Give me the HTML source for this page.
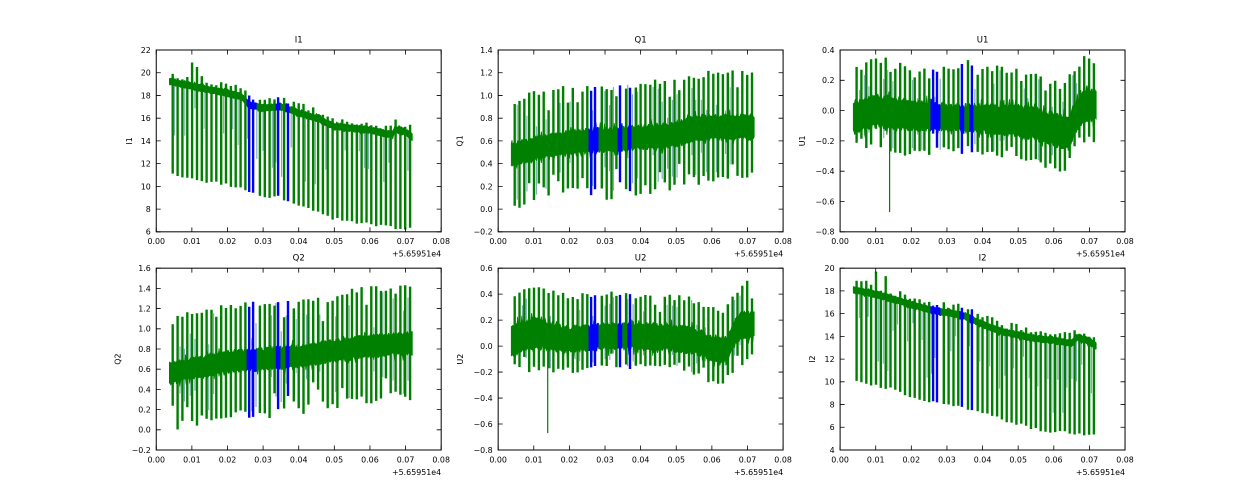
<!DOCTYPE html>
<html><head><meta charset="utf-8">
<style>
html,body{margin:0;padding:0;background:#fff;}
svg{display:block;}
text{font-family:"DejaVu Sans","Liberation Sans",sans-serif;fill:#000;}
.t{font-size:7.9px;}
.ti{font-size:8.5px;}
</style></head>
<body>
<svg id="s" width="1250" height="500" viewBox="0 0 1250 500" xmlns="http://www.w3.org/2000/svg">
<rect width="1250" height="500" fill="#fff"/>
<defs>
<clipPath id="c0"><rect x="156.25" y="50" width="284.93" height="181.82"/></clipPath>
<clipPath id="c1"><rect x="498.17" y="50" width="284.93" height="181.82"/></clipPath>
<clipPath id="c2"><rect x="840.1" y="50" width="284.93" height="181.82"/></clipPath>
<clipPath id="c3"><rect x="156.25" y="268.18" width="284.93" height="181.82"/></clipPath>
<clipPath id="c4"><rect x="498.17" y="268.18" width="284.93" height="181.82"/></clipPath>
<clipPath id="c5"><rect x="840.1" y="268.18" width="284.93" height="181.82"/></clipPath>
</defs>
<g id="d0" clip-path="url(#c0)"></g>
<g id="d1" clip-path="url(#c1)"></g>
<g id="d2" clip-path="url(#c2)"></g>
<g id="d3" clip-path="url(#c3)"></g>
<g id="d4" clip-path="url(#c4)"></g>
<g id="d5" clip-path="url(#c5)"></g>
<g fill="none" stroke="#000" stroke-width="1">
<rect x="156.25" y="50" width="284.93" height="181.82"/>
<rect x="498.17" y="50" width="284.93" height="181.82"/>
<rect x="840.1" y="50" width="284.93" height="181.82"/>
<rect x="156.25" y="268.18" width="284.93" height="181.82"/>
<rect x="498.17" y="268.18" width="284.93" height="181.82"/>
<rect x="840.1" y="268.18" width="284.93" height="181.82"/>
</g>
<g id="ticks" stroke="#000" stroke-width="0.8" fill="none"></g>

<!-- Titles -->
<g class="ti" text-anchor="middle">
<text x="298.7" y="42.5">I1</text>
<text x="640.6" y="42.5">Q1</text>
<text x="982.6" y="42.5">U1</text>
<text x="298.7" y="260.7">Q2</text>
<text x="640.6" y="260.7">U2</text>
<text x="982.6" y="260.7">I2</text>
</g>

<!-- Y labels -->
<g class="t" text-anchor="middle">
<text transform="translate(132,140.9) rotate(-90)">I1</text>
<text transform="translate(462.5,140.9) rotate(-90)">Q1</text>
<text transform="translate(805,140.9) rotate(-90)">U1</text>
<text transform="translate(120.5,359.1) rotate(-90)">Q2</text>
<text transform="translate(463,359.1) rotate(-90)">U2</text>
<text transform="translate(815,359.1) rotate(-90)">I2</text>
</g>

<!-- X tick labels -->
<g class="t" text-anchor="middle">
<text x="156.25" y="244">0.00</text><text x="191.87" y="244">0.01</text><text x="227.48" y="244">0.02</text><text x="263.10" y="244">0.03</text><text x="298.72" y="244">0.04</text><text x="334.33" y="244">0.05</text><text x="369.95" y="244">0.06</text><text x="405.56" y="244">0.07</text><text x="441.18" y="244">0.08</text>
<text x="498.17" y="244">0.00</text><text x="533.79" y="244">0.01</text><text x="569.40" y="244">0.02</text><text x="605.02" y="244">0.03</text><text x="640.64" y="244">0.04</text><text x="676.25" y="244">0.05</text><text x="711.87" y="244">0.06</text><text x="747.48" y="244">0.07</text><text x="783.10" y="244">0.08</text>
<text x="840.10" y="244">0.00</text><text x="875.72" y="244">0.01</text><text x="911.33" y="244">0.02</text><text x="946.95" y="244">0.03</text><text x="982.56" y="244">0.04</text><text x="1018.18" y="244">0.05</text><text x="1053.80" y="244">0.06</text><text x="1089.41" y="244">0.07</text><text x="1125.03" y="244">0.08</text>
<text x="156.25" y="462.5">0.00</text><text x="191.87" y="462.5">0.01</text><text x="227.48" y="462.5">0.02</text><text x="263.10" y="462.5">0.03</text><text x="298.72" y="462.5">0.04</text><text x="334.33" y="462.5">0.05</text><text x="369.95" y="462.5">0.06</text><text x="405.56" y="462.5">0.07</text><text x="441.18" y="462.5">0.08</text>
<text x="498.17" y="462.5">0.00</text><text x="533.79" y="462.5">0.01</text><text x="569.40" y="462.5">0.02</text><text x="605.02" y="462.5">0.03</text><text x="640.64" y="462.5">0.04</text><text x="676.25" y="462.5">0.05</text><text x="711.87" y="462.5">0.06</text><text x="747.48" y="462.5">0.07</text><text x="783.10" y="462.5">0.08</text>
<text x="840.10" y="462.5">0.00</text><text x="875.72" y="462.5">0.01</text><text x="911.33" y="462.5">0.02</text><text x="946.95" y="462.5">0.03</text><text x="982.56" y="462.5">0.04</text><text x="1018.18" y="462.5">0.05</text><text x="1053.80" y="462.5">0.06</text><text x="1089.41" y="462.5">0.07</text><text x="1125.03" y="462.5">0.08</text>
</g>

<!-- Offset texts -->
<g class="t" text-anchor="end">
<text x="441.18" y="256.5">+5.65951e4</text>
<text x="783.10" y="256.5">+5.65951e4</text>
<text x="1125.03" y="256.5">+5.65951e4</text>
<text x="441.18" y="475">+5.65951e4</text>
<text x="783.10" y="475">+5.65951e4</text>
<text x="1125.03" y="475">+5.65951e4</text>
</g>

<!-- Y tick labels -->
<g class="t" text-anchor="end">
<text x="150.75" y="52.9">22</text><text x="150.75" y="75.6">20</text><text x="150.75" y="98.4">18</text><text x="150.75" y="121.1">16</text><text x="150.75" y="143.8">14</text><text x="150.75" y="166.5">12</text><text x="150.75" y="189.3">10</text><text x="150.75" y="212.0">8</text><text x="150.75" y="234.7">6</text>
<text x="492.67" y="52.9">1.4</text><text x="492.67" y="75.6">1.2</text><text x="492.67" y="98.4">1.0</text><text x="492.67" y="121.1">0.8</text><text x="492.67" y="143.8">0.6</text><text x="492.67" y="166.5">0.4</text><text x="492.67" y="189.3">0.2</text><text x="492.67" y="212.0">0.0</text><text x="492.67" y="234.7">−0.2</text>
<text x="834.6" y="52.9">0.4</text><text x="834.6" y="83.2">0.2</text><text x="834.6" y="113.5">0.0</text><text x="834.6" y="143.8">−0.2</text><text x="834.6" y="174.1">−0.4</text><text x="834.6" y="204.4">−0.6</text><text x="834.6" y="234.7">−0.8</text>
<text x="150.75" y="271.1">1.6</text><text x="150.75" y="291.3">1.4</text><text x="150.75" y="311.5">1.2</text><text x="150.75" y="331.7">1.0</text><text x="150.75" y="351.9">0.8</text><text x="150.75" y="372.1">0.6</text><text x="150.75" y="392.3">0.4</text><text x="150.75" y="412.5">0.2</text><text x="150.75" y="432.7">0.0</text><text x="150.75" y="452.9">−0.2</text>
<text x="492.67" y="271.1">0.6</text><text x="492.67" y="297.1">0.4</text><text x="492.67" y="323.0">0.2</text><text x="492.67" y="349.0">0.0</text><text x="492.67" y="375.0">−0.2</text><text x="492.67" y="401.0">−0.4</text><text x="492.67" y="426.9">−0.6</text><text x="492.67" y="452.9">−0.8</text>
<text x="834.6" y="271.1">20</text><text x="834.6" y="293.8">18</text><text x="834.6" y="316.5">16</text><text x="834.6" y="339.3">14</text><text x="834.6" y="362.0">12</text><text x="834.6" y="384.7">10</text><text x="834.6" y="407.5">8</text><text x="834.6" y="430.2">6</text><text x="834.6" y="452.9">4</text>
</g>
</svg>
<script>
(function(){
var NS='http://www.w3.org/2000/svg';
var W=284.93,H=181.82;
var seed=12345;
function r(){seed=(seed*1664525+1013904223)>>>0;return seed/4294967296;}
function ip(p,x){if(x<=p[0][0])return p[0][1];for(var i=1;i<p.length;i++){if(x<=p[i][0]){var a=p[i-1],b=p[i];return a[1]+(b[1]-a[1])*(x-a[0])/(b[0]-a[0]);}}return p[p.length-1][1];}
var BLUE=[[0.0254,0.0281],[0.0337,0.0348],[0.0365,0.0375]];
var BSP=[0.0261,0.0272,0.0342,0.0370];
function inBlue(x){for(var i=0;i<BLUE.length;i++){if(x>=BLUE[i][0]&&x<=BLUE[i][1])return true;}return false;}
var SP=[];
for(var x=0.00463;x<0.0716;x+=0.00136){if(!inBlue(x))SP.push(x);}
var ALL=SP.concat(BSP).sort(function(a,b){return a-b;});

var plots=[
{id:'d0',L:156.25,T:50,y0:6,y1:22,type:'I',
 c:[[0.0037,19.25],[0.01,18.8],[0.015,18.5],[0.02,18.2],[0.024,17.9],[0.025,17.5],[0.026,17.2],[0.03,16.9],[0.035,17.0],[0.038,16.7],[0.04,16.45],[0.045,16.0],[0.05,15.27],[0.055,15.1],[0.06,14.97],[0.065,14.6],[0.0665,14.6],[0.067,15.0],[0.07,14.8],[0.072,14.3]],
 hw:[[0,0.3]],
 bot:[[0.005,11.07],[0.01,10.68],[0.015,10.38],[0.02,10.18],[0.025,9.65],[0.03,8.9],[0.035,9.05],[0.04,8.3],[0.045,7.72],[0.05,7.13],[0.055,6.83],[0.06,6.7],[0.065,6.4],[0.07,6.24]],
 up:[[0,0.8]],big:[[0.0047,19.9],[0.0101,20.9],[0.0115,20.5],[0.0128,19.7]]},
{id:'d1',L:498.17,T:50,y0:-0.2,y1:1.4,type:'Q',
 c:[[0.0037,0.48],[0.01,0.53],[0.02,0.59],[0.03,0.61],[0.04,0.63],[0.05,0.66],[0.055,0.71],[0.06,0.72],[0.072,0.72]],
 hw:[[0,0.1],[0.072,0.11]],
 top:[[0.005,0.92],[0.006,0.97],[0.01,1.02],[0.015,1.05],[0.02,1.065],[0.03,1.065],[0.04,1.11],[0.05,1.14],[0.055,1.17],[0.06,1.2],[0.072,1.2]],
 bot:[[0.005,-0.01],[0.008,0.05],[0.01,0.07],[0.02,0.14],[0.03,0.12],[0.04,0.15],[0.05,0.2],[0.06,0.256],[0.072,0.27]],jt:0.06,jb:0.1},
{id:'d2',L:840.1,T:50,y0:-0.8,y1:0.4,type:'Q',
 c:[[0.0037,-0.05],[0.01,0.0],[0.02,-0.03],[0.03,-0.045],[0.04,-0.05],[0.05,-0.07],[0.055,-0.09],[0.06,-0.125],[0.064,-0.15],[0.066,-0.05],[0.068,0.02],[0.072,0.04]],
 hw:[[0,0.1],[0.01,0.11],[0.03,0.085],[0.06,0.11],[0.072,0.1]],
 top:[[0.005,0.28],[0.008,0.32],[0.01,0.365],[0.015,0.33],[0.02,0.256],[0.025,0.27],[0.03,0.29],[0.035,0.32],[0.04,0.3],[0.045,0.28],[0.05,0.27],[0.055,0.245],[0.06,0.18],[0.063,0.16],[0.066,0.29],[0.069,0.35],[0.072,0.34]],
 bot:[[0.005,-0.31],[0.01,-0.22],[0.015,-0.265],[0.02,-0.29],[0.03,-0.265],[0.04,-0.29],[0.05,-0.32],[0.055,-0.33],[0.06,-0.4],[0.063,-0.4],[0.066,-0.21],[0.072,-0.19]],jt:0.05,jb:0.05,extra:[0.0139,-0.67]},
{id:'d3',L:156.25,T:268.18,y0:-0.2,y1:1.6,type:'Q',
 c:[[0.0037,0.56],[0.01,0.61],[0.02,0.675],[0.03,0.7],[0.04,0.73],[0.05,0.78],[0.06,0.83],[0.072,0.855]],
 hw:[[0,0.1],[0.02,0.11],[0.072,0.11]],
 top:[[0.005,1.05],[0.006,1.12],[0.01,1.15],[0.015,1.2],[0.02,1.23],[0.03,1.25],[0.04,1.28],[0.05,1.3],[0.055,1.38],[0.06,1.4],[0.072,1.41]],
 bot:[[0.005,-0.02],[0.008,0.05],[0.01,0.07],[0.02,0.15],[0.03,0.15],[0.04,0.18],[0.05,0.25],[0.06,0.3],[0.072,0.33]],jt:0.06,jb:0.1},
{id:'d4',L:498.17,T:268.18,y0:-0.8,y1:0.6,type:'Q',
 c:[[0.0037,0.035],[0.01,0.1],[0.02,0.05],[0.03,0.075],[0.04,0.08],[0.05,0.06],[0.055,0.04],[0.06,-0.015],[0.064,-0.03],[0.066,0.08],[0.068,0.16],[0.072,0.17]],
 hw:[[0,0.11],[0.01,0.12],[0.02,0.1],[0.072,0.1]],
 top:[[0.005,0.37],[0.008,0.46],[0.01,0.46],[0.02,0.38],[0.03,0.41],[0.04,0.38],[0.05,0.38],[0.055,0.36],[0.06,0.29],[0.064,0.28],[0.067,0.43],[0.07,0.5],[0.072,0.48]],
 bot:[[0.005,-0.19],[0.01,-0.18],[0.02,-0.19],[0.03,-0.16],[0.05,-0.17],[0.055,-0.22],[0.06,-0.28],[0.063,-0.28],[0.067,-0.16],[0.072,-0.08]],jt:0.05,jb:0.05,extra:[0.0139,-0.67]},
{id:'d5',L:840.1,T:268.18,y0:4,y1:20,type:'I',
 c:[[0.0037,18.1],[0.01,17.7],[0.02,16.8],[0.025,16.35],[0.03,16.1],[0.035,15.8],[0.037,15.5],[0.04,15.05],[0.045,14.45],[0.05,14.1],[0.055,13.8],[0.06,13.65],[0.065,13.4],[0.0665,13.9],[0.07,13.6],[0.072,13.1]],
 hw:[[0,0.3]],
 bot:[[0.005,10.0],[0.008,9.77],[0.01,9.6],[0.015,9.3],[0.02,8.75],[0.025,8.3],[0.03,8.0],[0.035,7.7],[0.04,7.27],[0.045,6.7],[0.05,6.25],[0.055,5.8],[0.06,5.57],[0.07,5.37],[0.072,5.2]],
 up:[[0,0.8]],big:[[0.0047,18.9],[0.0074,18.9],[0.0101,19.7],[0.0128,19.3]]}
];

function f(v){return v.toFixed(1);}
function draw(p){
 var g=document.getElementById(p.id);
 var X=function(x){return p.L+x/0.08*W;};
 var Y=function(v){return p.T+(p.y1-v)/(p.y1-p.y0)*H;};
 var thin='',gb='',bb='',gs='',bs='',gz='',bz='';
 // thin light spikes between main spikes
 for(var i=0;i<ALL.length-1;i++){
  if(r()<0.55){
   var xm=(ALL[i]+ALL[i+1])/2+(r()-0.5)*0.0004;
   var c=ip(p.c,xm),a,b;
   if(p.type==='I'){a=c+0.3*r();b=c-(1.5+r()*5);}
   else{var tp=ip(p.top,xm),bt=ip(p.bot,xm);a=c+(tp-c)*(0.3+0.7*r());b=c-(c-bt)*(0.3+0.7*r());}
   thin+='M'+f(X(xm))+','+f(Y(a))+'V'+f(Y(b));
  }
 }
 // band as filled polygons per colour segment
 var segs=[],cur=null;
 var s=1;
 for(var px=X(0.0037);px<=X(0.072)+0.01;px+=0.7){
  var x=(px-p.L)/W*0.08;
  var c=ip(p.c,x),hw=ip(p.hw,x);
  var ku=0.75+0.35*r(),kl=0.75+0.35*r();
  if(r()<0.07)ku*=1.4;
  if(r()<0.07)kl*=1.4;
  var u=Y(c+hw*ku),l=Y(c-hw*kl);
  var bl=inBlue(x);
  if(!cur||cur.b!==bl){
   var prev=cur;
   cur={b:bl,u:[],l:[]};
   if(prev){cur.u.push(prev.u[prev.u.length-1]);cur.l.push(prev.l[prev.l.length-1]);}
   segs.push(cur);
  }
  cur.u.push(f(px)+','+f(u));cur.l.push(f(px)+','+f(l));
  // zigzag texture
  var zz=f(px)+','+f(s>0?u-(r()*1.2):l+(r()*1.2));s=-s;
  if(bl)bz+=(bz?'L':'M')+zz;else gz+=(gz?'L':'M')+zz;
 }
 for(var i=0;i<segs.length;i++){
  var sg=segs[i];
  var d='M'+sg.u.join('L')+'L'+sg.l.reverse().join('L')+'Z';
  if(sg.b)bb+=d;else gb+=d;
 }
 // spikes
 for(var k=0;k<ALL.length;k++){
  var x=ALL[k];
  var blue=BSP.indexOf(x)>=0;
  var c=ip(p.c,x),top,bot;
  if(p.type==='I'){
   top=c+ip(p.up,x)*(0.4+0.8*r());
   bot=ip(p.bot,x)+(r()-0.5)*0.3;
   for(var j=0;j<p.big.length;j++){if(Math.abs(p.big[j][0]-x)<0.0007)top=p.big[j][1];}
  }else{
   top=ip(p.top,x)+(r()-0.6)*p.jt;
   bot=ip(p.bot,x)+(r()-0.4)*p.jb;
   if(r()<0.2)bot=bot+(c-bot)*0.5*r();
   if(r()<0.15)top=top-(top-c)*0.4*r();
  }
  var d='M'+f(X(x))+','+f(Y(top))+'V'+f(Y(bot));
  if(blue)bs+=d;else gs+=d;
 }
 function path(d,stroke,w,op,fill){var e=document.createElementNS(NS,'path');e.setAttribute('d',d);e.setAttribute('stroke',stroke);e.setAttribute('stroke-width',w);e.setAttribute('fill',fill||'none');e.setAttribute('stroke-linejoin','bevel');if(op)e.setAttribute('stroke-opacity',op);g.appendChild(e);}
 path(thin,'#5b8fa0',1.2,0.75);
 path(gb,'#008000',0.8,null,'#008000');
 path(bb,'#0000ff',0.8,null,'#0000ff');
 if(gz){ /* zigzag split by colour handled roughly */ }
 path(gs,'#008000',2.4);
 path(bs,'#0000ff',2.4);
 if(p.extra){path('M'+f(X(p.extra[0]))+','+f(Y(ip(p.c,p.extra[0])))+'V'+f(Y(p.extra[1])),'#008000',1.2);}
}
for(var i=0;i<plots.length;i++)draw(plots[i]);

// ticks
var tg=document.getElementById('ticks'),td='';
var TL=4.5;
var ny=[8,8,6,9,7,8];
for(var i=0;i<6;i++){
 var p=plots[i],L=p.L,T=p.T,R=L+W,B=T+H;
 for(var k=0;k<=8;k++){var x=(L+k*W/8).toFixed(2);td+='M'+x+','+B+'v'+(-TL)+'M'+x+','+T+'v'+TL;}
 for(var k=0;k<=ny[i];k++){var y=(T+k*H/ny[i]).toFixed(2);td+='M'+L+','+y+'h'+TL+'M'+R.toFixed(2)+','+y+'h'+(-TL);}
}
var e=document.createElementNS(NS,'path');e.setAttribute('d',td);tg.appendChild(e);
})();
</script>
</body></html>
